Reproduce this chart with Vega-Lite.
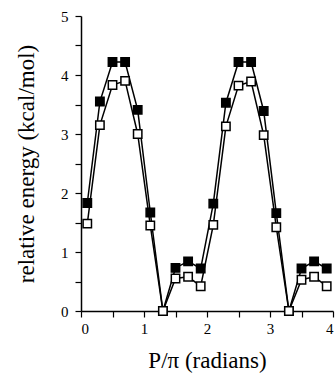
{
  "$schema": "https://vega.github.io/schema/vega-lite/v6.json",
  "autosize": "none",
  "width": 252,
  "height": 295,
  "padding": {"left": 81, "top": 16, "right": 3, "bottom": 71},
  "background": "white",
  "config": {
    "view": {"stroke": null},
    "font": "Liberation Serif",
    "axis": {
      "grid": false,
      "domainColor": "black",
      "tickColor": "black",
      "labelColor": "black",
      "titleColor": "black",
      "labelFont": "Liberation Serif",
      "titleFont": "Liberation Serif",
      "labelFontSize": 15,
      "labelFontWeight": "normal",
      "titleFontSize": 23,
      "titleFontWeight": "normal",
      "domainWidth": 1.5,
      "tickWidth": 1.2,
      "tickSize": 6
    }
  },
  "data": {
    "values": [
      {"p": 0.1, "e": 1.83, "s": "filled"},
      {"p": 0.3, "e": 3.55, "s": "filled"},
      {"p": 0.5, "e": 4.22, "s": "filled"},
      {"p": 0.7, "e": 4.22, "s": "filled"},
      {"p": 0.9, "e": 3.41, "s": "filled"},
      {"p": 1.1, "e": 1.67, "s": "filled"},
      {"p": 1.3, "e": 0.0, "s": "filled"},
      {"p": 1.5, "e": 0.73, "s": "filled"},
      {"p": 1.7, "e": 0.84, "s": "filled"},
      {"p": 1.9, "e": 0.72, "s": "filled"},
      {"p": 2.1, "e": 1.82, "s": "filled"},
      {"p": 2.3, "e": 3.53, "s": "filled"},
      {"p": 2.5, "e": 4.22, "s": "filled"},
      {"p": 2.7, "e": 4.22, "s": "filled"},
      {"p": 2.9, "e": 3.39, "s": "filled"},
      {"p": 3.1, "e": 1.66, "s": "filled"},
      {"p": 3.3, "e": 0.0, "s": "filled"},
      {"p": 3.5, "e": 0.72, "s": "filled"},
      {"p": 3.7, "e": 0.84, "s": "filled"},
      {"p": 3.9, "e": 0.72, "s": "filled"},
      {"p": 0.1, "e": 1.48, "s": "open"},
      {"p": 0.3, "e": 3.15, "s": "open"},
      {"p": 0.5, "e": 3.83, "s": "open"},
      {"p": 0.7, "e": 3.9, "s": "open"},
      {"p": 0.9, "e": 3.0, "s": "open"},
      {"p": 1.1, "e": 1.45, "s": "open"},
      {"p": 1.3, "e": 0.0, "s": "open"},
      {"p": 1.5, "e": 0.55, "s": "open"},
      {"p": 1.7, "e": 0.58, "s": "open"},
      {"p": 1.9, "e": 0.42, "s": "open"},
      {"p": 2.1, "e": 1.46, "s": "open"},
      {"p": 2.3, "e": 3.13, "s": "open"},
      {"p": 2.5, "e": 3.82, "s": "open"},
      {"p": 2.7, "e": 3.89, "s": "open"},
      {"p": 2.9, "e": 2.98, "s": "open"},
      {"p": 3.1, "e": 1.42, "s": "open"},
      {"p": 3.3, "e": 0.0, "s": "open"},
      {"p": 3.5, "e": 0.53, "s": "open"},
      {"p": 3.7, "e": 0.58, "s": "open"},
      {"p": 3.9, "e": 0.42, "s": "open"}
    ]
  },
  "encoding": {
    "x": {
      "field": "p", "type": "quantitative",
      "scale": {"domain": [0, 4], "nice": false, "zero": false},
      "axis": {
        "title": "P/π (radians)",
        "values": [0, 0.5, 1, 1.5, 2, 2.5, 3, 3.5, 4],
        "labelExpr": "datum.value % 1 == 0 ? format(datum.value, 'd') : ''",
        "labelPadding": 4,
        "titlePadding": 13
      }
    },
    "y": {
      "field": "e", "type": "quantitative",
      "scale": {"domain": [0, 5], "nice": false},
      "axis": {
        "title": "relative energy (kcal/mol)",
        "values": [0, 0.5, 1, 1.5, 2, 2.5, 3, 3.5, 4, 4.5, 5],
        "labelExpr": "datum.value % 1 == 0 ? format(datum.value, 'd') : ''",
        "labelPadding": 7,
        "titlePadding": 22
      }
    }
  },
  "layer": [
    {
      "mark": {"type": "line", "color": "black", "strokeWidth": 1.5},
      "encoding": {"detail": {"field": "s"}}
    },
    {
      "mark": {"type": "point", "shape": "square", "size": 70, "strokeWidth": 1.5, "opacity": 1, "stroke": "black", "filled": true},
      "encoding": {
        "fill": {
          "field": "s", "type": "nominal",
          "scale": {"domain": ["filled", "open"], "range": ["black", "white"]},
          "legend": null
        },
        "order": {"field": "s"}
      }
    }
  ]
}
